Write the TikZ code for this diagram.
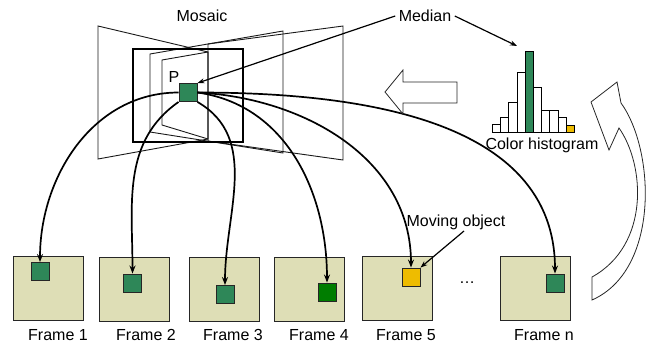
\documentclass[tikz,border=0pt]{standalone}
\usepackage{fontspec}
\setmainfont{Liberation Sans}
\usetikzlibrary{arrows.meta}
\definecolor{framebg}{RGB}{222,222,182}
\definecolor{pixgreen}{RGB}{46,135,88}
\definecolor{darkpix}{RGB}{0,125,0}
\definecolor{movyellow}{RGB}{238,188,0}
\begin{document}
\begin{tikzpicture}[x=1pt,y=-1pt,
    font=\fontsize{16}{18}\selectfont,
    frame/.style={draw=black!85,fill=framebg,line width=0.9pt,minimum width=70pt,minimum height=64pt,inner sep=0pt},
    pix/.style={draw=black!85,fill=pixgreen,line width=0.9pt,minimum size=18pt,inner sep=0pt},
    warp/.style={draw=black!90,line width=0.9pt},
    link/.style={line width=1.7pt,-{Stealth[length=8pt,width=6pt]}},
    pointer/.style={line width=1.2pt,-{Stealth[length=7pt,width=5pt]}},
    hollow/.style={draw=black!85,fill=white,line width=0.8pt},
    bar/.style={draw=black,line width=0.8pt,fill=white}]
  \useasboundingbox (0,0) rectangle (647,346);
  % mosaic of warped frames
  \draw[warp] (98,26) -- (208,52) -- (208,139) -- (98,159) -- cycle;
  \draw[warp] (208,44) -- (343,26) -- (343,160) -- (208,141) -- cycle;
  \draw[warp] (150,54) -- (283,31) -- (283,153) -- (150,132) -- cycle;
  \draw[warp] (162,60) -- (208,52) -- (208,139) -- (162,125) -- cycle;
  \draw[line width=1.1pt] (133,49) rectangle (243,142);
  \node (mosaic) at (202,16) {Mosaic};
  \node[pix] (p) at (188,92.5) {};
  \node (plabel) at (174,77) {P};
  % frames
  \node[frame] (f1) at (48,288.5) {};
  \node[frame] (f2) at (134,289) {};
  \node[frame] (f3) at (224,289) {};
  \node[frame] (f4) at (309,289) {};
  \node[frame] (f5) at (397,288.5) {};
  \node[frame] (fn) at (535,288.5) {};
  \node[pix] (s1) at (40,271.5) {};
  \node[pix] (s2) at (132.5,283) {};
  \node[pix] (s3) at (225,294.5) {};
  \node[pix,fill=darkpix] (s4) at (327,292) {};
  \node[pix,fill=movyellow] (s5) at (411,277) {};
  \node[pix] (sn) at (555,283) {};
  \node (dots) at (467,283) {\dots};
  \node (l1) at (58,335) {Frame 1};
  \node (l2) at (146,335) {Frame 2};
  \node (l3) at (233,335) {Frame 3};
  \node (l4) at (319,335) {Frame 4};
  \node (l5) at (406,335) {Frame 5};
  \node (ln) at (544,335) {Frame n};
  % links from the mosaic pixel to each frame
  \begin{scope}[link]
    \draw (p.west) to[out=180,in=90] (s1.north);
    \draw (p.south west) to[out=215,in=90] (s2.north);
    \draw (p.south east) to[out=-30,in=90] (s3.north);
    \draw (p.east) to[out=-8,in=90] (s4.north);
    \draw (p.east) to[out=-3,in=90] (s5.north);
    \draw (p.east) to[out=0,in=90] (sn.north);
  \end{scope}
  % histogram
  \foreach \x/\h [count=\i] in {492.3/124.3,500.5/117.3,508.7/102.3,516.9/72.7,525.1/51,533.3/87.3,541.5/110,549.7/110,557.9/117.3,566.1/125}
    \draw[bar] (\x,132) rectangle ++(8.2,\h-132);
  \draw[bar,fill=pixgreen] (525.1,132) rectangle (533.3,51);
  \draw[bar,fill=movyellow] (566.1,132) rectangle (574.3,125);
  \coordinate (histtop) at (517,46);
  \node (hist) at (542,145) {Color histogram};
  \node (median) at (425,16) {Median};
  \node (moving) at (456,222) {Moving object};
  \draw[pointer] (median.west) -- (p.north east);
  \draw[pointer] (median.east) -- (histtop);
  \draw[pointer] (moving.south) ++(8,-2) coordinate (mv) -- (s5.north east);
  % hollow arrows
  \draw[hollow] (385,92) -- (403,70) -- (403,82) -- (457,82) -- (457,103) -- (403,103) -- (403,114) -- cycle;
  \draw[hollow] (617,82) -- (591,102) -- (609,150) -- (619,128)
    .. controls (645,165) and (650,245) .. (592,277) -- (592,300)
    .. controls (660,270) and (655,150) .. (621,103) -- cycle;
\end{tikzpicture}
\end{document}
